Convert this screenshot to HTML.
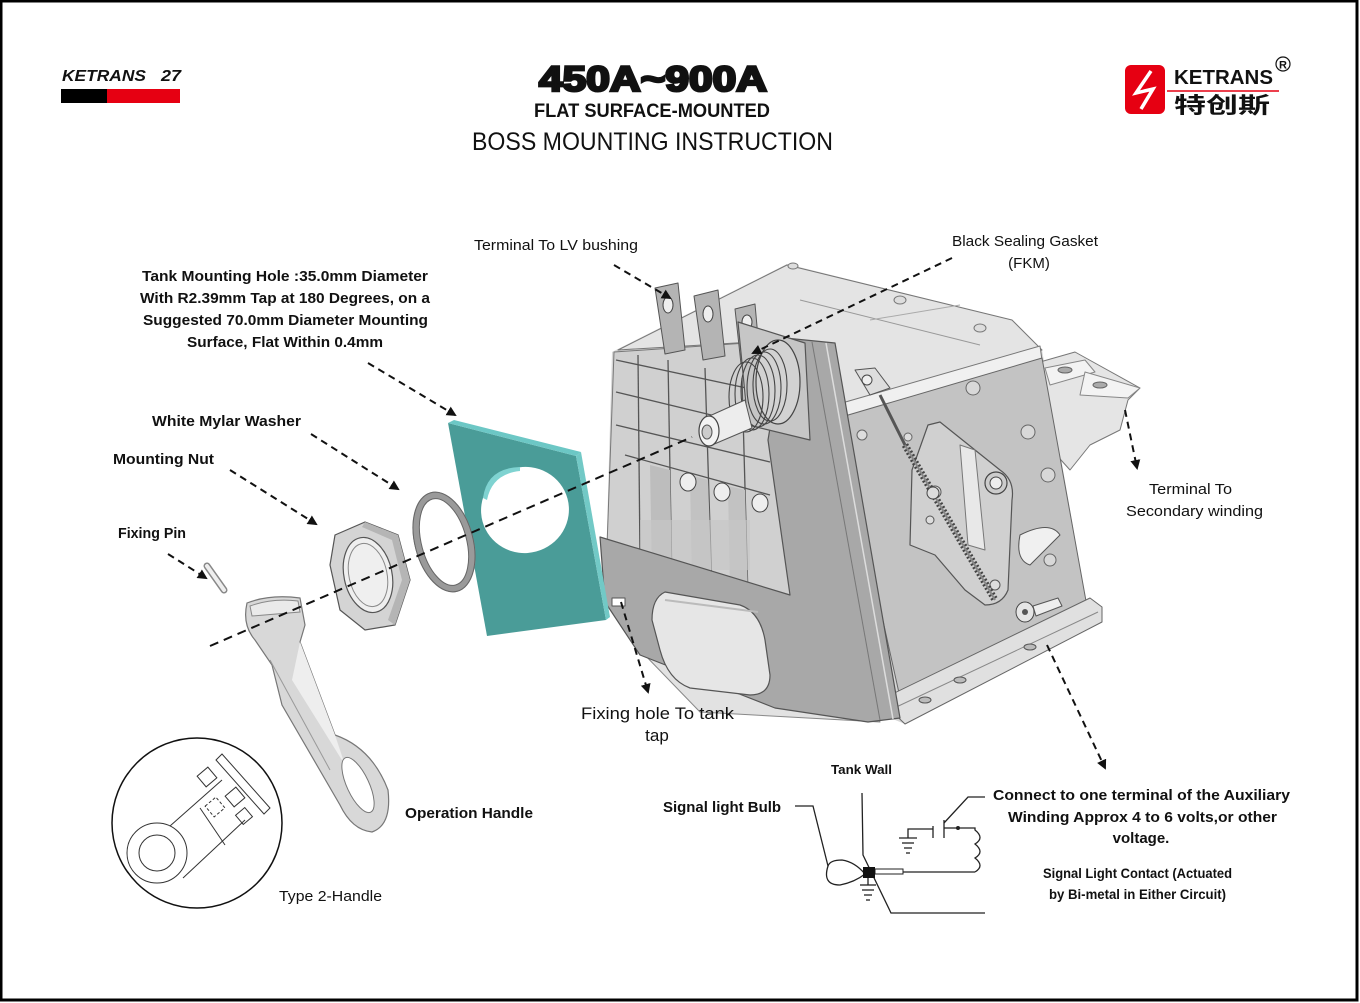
<!DOCTYPE html>
<html>
<head>
<meta charset="utf-8">
<style>
html,body{margin:0;padding:0;background:#fff;}
body{width:1360px;height:1003px;overflow:hidden;}
svg{display:block;}
text{font-family:"Liberation Sans","Noto Sans CJK SC",sans-serif;fill:#111;}
.lb{font-size:15px;}
.bd{font-size:15px;font-weight:bold;}
</style>
</head>
<body>
<svg width="1360" height="1003" viewBox="0 0 1360 1003" xmlns="http://www.w3.org/2000/svg">
<defs>
<marker id="ah" markerWidth="10" markerHeight="10" refX="8" refY="5" orient="auto" markerUnits="userSpaceOnUse">
<path d="M0,0 L10,5 L0,10 z" fill="#111"/>
</marker>
</defs>
<rect x="0" y="0" width="1360" height="1003" fill="#fff"/>
<!-- frame -->
<rect x="1" y="1" width="1356" height="999" fill="none" stroke="#000" stroke-width="3"/>

<!-- left logo -->
<text x="62" y="81" font-size="16" font-weight="bold" font-style="italic" textLength="84" lengthAdjust="spacingAndGlyphs">KETRANS</text>
<text x="161" y="81" font-size="16" font-weight="bold" font-style="italic" textLength="20" lengthAdjust="spacingAndGlyphs">27</text>
<rect x="61" y="89" width="46" height="14" fill="#000"/>
<rect x="107" y="89" width="73" height="14" fill="#e60012"/>

<!-- title -->
<text x="539" y="91" font-size="35" font-weight="900" stroke="#111" stroke-width="2.6" textLength="228" lengthAdjust="spacingAndGlyphs">450A~900A</text>
<text x="534" y="117" font-size="19.5" font-weight="bold" textLength="236" lengthAdjust="spacingAndGlyphs">FLAT SURFACE-MOUNTED</text>
<text x="472" y="150" font-size="25" textLength="361" lengthAdjust="spacingAndGlyphs">BOSS MOUNTING INSTRUCTION</text>

<!-- right logo -->
<rect x="1125" y="65" width="40" height="49" rx="6" fill="#e60012"/>
<polyline points="1151,71 1136,93 1153,89 1141,109" fill="none" stroke="#fff" stroke-width="3.5" stroke-linejoin="miter"/>
<text x="1174" y="84" font-size="20" font-weight="bold" textLength="99" lengthAdjust="spacingAndGlyphs">KETRANS</text>
<line x1="1167" y1="91" x2="1279" y2="91" stroke="#e60012" stroke-width="1.5"/>
<text x="1174" y="113" font-size="22" font-weight="bold" textLength="96" lengthAdjust="spacingAndGlyphs">特创斯</text>
<circle cx="1283" cy="64" r="7" fill="none" stroke="#111" stroke-width="1.2"/>
<text x="1283" y="68.5" font-size="11" text-anchor="middle" font-weight="bold">R</text>

<!-- ================= MACHINE ================= -->
<g stroke-linejoin="round">
<!-- base silhouette -->
<polygon points="612,352 787,264 1012,320 1042,350 1088,612 1102,607 1102,622 905,724 605,602" fill="#d6d6d6"/>
<!-- top face -->
<polygon points="618,350 787,265 1012,320 1042,350 842,412 785,340" fill="#e4e4e4" stroke="#777" stroke-width="1"/>
<polygon points="835,405 1040,346 1042,360 840,420" fill="#f0f0f0" stroke="#777" stroke-width="1"/>
<line x1="800" y1="300" x2="980" y2="345" stroke="#999" stroke-width="1"/>
<line x1="870" y1="320" x2="960" y2="305" stroke="#aaa" stroke-width="1"/>
<ellipse cx="900" cy="300" rx="6" ry="4" fill="#ddd" stroke="#777"/>
<ellipse cx="980" cy="328" rx="6" ry="4" fill="#ddd" stroke="#777"/>
<ellipse cx="793" cy="266" rx="5" ry="3" fill="#ddd" stroke="#777"/>

<!-- right terminals -->
<polygon points="1040,362 1075,352 1140,388 1128,400 1120,430 1090,445 1070,470 1052,450" fill="#e5e5e5" stroke="#777" stroke-width="1"/>
<polygon points="1045,368 1085,360 1095,372 1050,385" fill="#f3f3f3" stroke="#888" stroke-width="1"/>
<polygon points="1085,372 1140,388 1128,398 1080,395" fill="#f3f3f3" stroke="#888" stroke-width="1"/>
<ellipse cx="1065" cy="370" rx="7" ry="3" fill="#aaa" stroke="#666"/>
<ellipse cx="1100" cy="385" rx="7" ry="3" fill="#aaa" stroke="#666"/>

<!-- lattice frame -->
<polygon points="614,352 790,340 795,600 605,602" fill="#d0d0d0" stroke="#777" stroke-width="1"/>
<g stroke="#555" stroke-width="1.3" fill="none">
<line x1="616" y1="360" x2="765" y2="392"/>
<line x1="616" y1="392" x2="765" y2="428"/>
<line x1="616" y1="425" x2="770" y2="462"/>
<line x1="625" y1="455" x2="770" y2="495"/>
<line x1="638" y1="355" x2="640" y2="560"/>
<line x1="668" y1="360" x2="672" y2="585"/>
<line x1="705" y1="368" x2="712" y2="592"/>
<line x1="742" y1="378" x2="748" y2="598"/>
</g>
<polygon points="650,465 670,470 672,580 652,575" fill="#bdbdbd"/>
<polygon points="690,475 708,480 712,590 692,585" fill="#c2c2c2"/>
<polygon points="728,486 745,490 748,598 730,594" fill="#c2c2c2"/>
<ellipse cx="688" cy="482" rx="8" ry="9" fill="#eee" stroke="#444"/>
<ellipse cx="722" cy="492" rx="8" ry="9" fill="#eee" stroke="#444"/>
<ellipse cx="760" cy="503" rx="8" ry="9" fill="#eee" stroke="#444"/>
<rect x="640" y="520" width="110" height="50" fill="#c6c6c6" opacity="0.6"/>

<!-- LV tabs -->
<polygon points="655,288 678,283 685,350 665,354" fill="#b4b4b4" stroke="#555" stroke-width="1"/>
<ellipse cx="668" cy="305" rx="5" ry="8" fill="#eee" stroke="#444"/>
<polygon points="694,296 718,290 725,356 703,360" fill="#b4b4b4" stroke="#555" stroke-width="1"/>
<ellipse cx="708" cy="314" rx="5" ry="8" fill="#eee" stroke="#444"/>
<polygon points="735,309 755,304 760,360 741,364" fill="#b4b4b4" stroke="#555" stroke-width="1"/>
<ellipse cx="747" cy="322" rx="5" ry="7" fill="#eee" stroke="#444"/>

<!-- right side plate -->
<polygon points="838,418 1042,358 1088,612 905,720" fill="#c3c3c3" stroke="#666" stroke-width="1"/>
<circle cx="973" cy="388" r="7" fill="#d8d8d8" stroke="#666"/>
<circle cx="1028" cy="432" r="7" fill="#d8d8d8" stroke="#666"/>
<circle cx="1048" cy="475" r="7" fill="#d8d8d8" stroke="#666"/>
<circle cx="1050" cy="560" r="6" fill="#d8d8d8" stroke="#666"/>
<circle cx="908" cy="437" r="4" fill="#ddd" stroke="#666"/>
<circle cx="862" cy="435" r="5" fill="#ddd" stroke="#666"/>
<!-- mechanism plate -->
<path d="M928,425 L940,422 L1000,470 Q1015,480 1012,500 L1008,590 Q1002,605 985,605 L965,590 L935,555 L910,545 L912,470 Z" fill="#d0d0d0" stroke="#555" stroke-width="1.2"/>
<polygon points="960,445 975,450 985,550 968,545" fill="#e8e8e8" stroke="#777" stroke-width="1"/>
<circle cx="996" cy="483" r="11" fill="#ccc" stroke="#444" stroke-width="1.2"/>
<circle cx="996" cy="483" r="6" fill="#eee" stroke="#444"/>
<circle cx="935" cy="492" r="6" fill="#ddd" stroke="#555"/>
<circle cx="930" cy="520" r="4" fill="#ddd" stroke="#555"/>
<circle cx="995" cy="585" r="5" fill="#ddd" stroke="#555"/>
<path d="M1020,535 Q1050,520 1060,535 L1030,565 Q1015,560 1020,535 Z" fill="#f0f0f0" stroke="#555"/>
<!-- spring -->
<line x1="880" y1="395" x2="905" y2="445" stroke="#555" stroke-width="3"/>
<line x1="905" y1="445" x2="995" y2="600" stroke="#444" stroke-width="7" stroke-dasharray="2 2"/>
<line x1="905" y1="445" x2="995" y2="600" stroke="#888" stroke-width="2"/>
<circle cx="933" cy="493" r="6" fill="#ddd" stroke="#444"/>
<polygon points="855,370 875,368 890,388 870,395" fill="#ddd" stroke="#555"/>
<circle cx="867" cy="380" r="5" fill="#eee" stroke="#444"/>

<!-- bottom flange -->
<polygon points="880,700 1090,598 1102,607 1102,622 905,724" fill="#e0e0e0" stroke="#666" stroke-width="1"/>
<line x1="890" y1="710" x2="1098" y2="612" stroke="#888" stroke-width="1"/>
<ellipse cx="960" cy="680" rx="6" ry="3" fill="#bbb" stroke="#555"/>
<ellipse cx="1030" cy="647" rx="6" ry="3" fill="#bbb" stroke="#555"/>
<ellipse cx="925" cy="700" rx="6" ry="3" fill="#bbb" stroke="#555"/>
<!-- bottom connector -->
<ellipse cx="1025" cy="612" rx="9" ry="10" fill="#e5e5e5" stroke="#444"/>
<circle cx="1025" cy="612" r="3" fill="#555"/>
<polygon points="1033,606 1058,598 1062,606 1036,616" fill="#eee" stroke="#555"/>

<!-- lower machine base visible under arm -->
<polygon points="640,650 870,700 880,722 700,712" fill="#e2e2e2" stroke="#888" stroke-width="1"/>

<!-- L mounting plate -->
<path d="M600,537 L790,595 L768,440 L785,338 L835,343 L900,718 L868,722 L775,708 L640,655 L605,602 Z" fill="#a8a8a8" stroke="#555" stroke-width="1.2"/>
<line x1="812" y1="342" x2="880" y2="720" stroke="#777" stroke-width="1"/>
<line x1="826" y1="343" x2="893" y2="719" stroke="#ddd" stroke-width="1.5"/>
<!-- slot -->
<path d="M665,592 Q652,598 652,620 L660,650 Q668,680 690,688 L750,695 Q770,695 770,675 L765,640 Q760,612 740,605 Z" fill="#e6e6e6" stroke="#555" stroke-width="1.2"/>
<line x1="665" y1="600" x2="758" y2="612" stroke="#bbb" stroke-width="2"/>
<path d="M612,598 L625,598 L625,606 L612,606 Z" fill="#fff" stroke="#555"/>

<!-- shaft / bushing -->
<polygon points="738,322 805,343 810,440 748,425" fill="#c6c6c6" stroke="#555" stroke-width="1.2"/>
<ellipse cx="778" cy="382" rx="22" ry="42" fill="#d2d2d2" stroke="#444" stroke-width="1.2"/>
<g fill="none" stroke="#444" stroke-width="1.1">
<ellipse cx="770" cy="385" rx="17" ry="36"/>
<ellipse cx="764" cy="388" rx="17" ry="36"/>
<ellipse cx="758" cy="391" rx="17" ry="36"/>
<ellipse cx="752" cy="394" rx="17" ry="36"/>
<ellipse cx="746" cy="397" rx="17" ry="35"/>
</g>
<polygon points="705,418 745,400 752,428 712,445" fill="#ededed" stroke="#555" stroke-width="1"/>
<ellipse cx="709" cy="431" rx="10" ry="15" fill="#f4f4f4" stroke="#444" stroke-width="1.2"/>
<ellipse cx="707" cy="432" rx="5" ry="7" fill="#ccc" stroke="#555"/>
</g>

<!-- teal plate -->
<polygon points="448,423 576,456 606,620 487,636" fill="#4a9c98"/>
<polygon points="448,423 454,420 581,452 576,456" fill="#6cc7c5"/>
<polygon points="576,456 581,452 610,617 606,620" fill="#72c9c6"/>
<ellipse cx="525" cy="510" rx="44" ry="43" fill="#fff" transform="rotate(-15 525 510)"/>
<path d="M483,498 Q487,468 520,467 L520,471 Q492,474 487,500 Z" fill="#7fd3d1"/>

<!-- washer -->
<ellipse cx="444" cy="542" rx="26" ry="48" fill="none" stroke="#9a9a9a" stroke-width="7" transform="rotate(-15 444 542)"/>
<ellipse cx="444" cy="542" rx="29" ry="51" fill="none" stroke="#666" stroke-width="1" transform="rotate(-15 444 542)"/>
<ellipse cx="444" cy="542" rx="22.5" ry="44.5" fill="none" stroke="#666" stroke-width="1" transform="rotate(-15 444 542)"/>

<!-- nut -->
<polygon points="335,535 365,522 398,535 410,580 395,625 365,630 340,610 330,565" fill="#d4d4d4" stroke="#555" stroke-width="1.2"/>
<polygon points="365,522 398,535 410,580 395,625 388,620 402,580 392,540 362,527" fill="#b5b5b5"/>
<ellipse cx="368" cy="575" rx="24" ry="38" fill="#efefef" stroke="#555" stroke-width="1.2" transform="rotate(-12 368 575)"/>
<ellipse cx="368" cy="575" rx="19" ry="32" fill="none" stroke="#888" stroke-width="1" transform="rotate(-12 368 575)"/>

<!-- fixing pin -->
<line x1="207" y1="566" x2="224" y2="590" stroke="#888" stroke-width="7" stroke-linecap="round"/>
<line x1="207" y1="566" x2="224" y2="590" stroke="#eee" stroke-width="4" stroke-linecap="round"/>

<!-- operation handle -->
<path d="M247,603 Q270,594 300,598 L305,625 L300,642 L335,735 Q372,748 388,790 Q392,825 372,832 Q352,830 340,805 L282,705 L272,665 L255,640 Q242,625 247,603 Z" fill="#d8d8d8" stroke="#777" stroke-width="1.2"/>
<path d="M250,606 Q272,598 298,601 L300,612 L252,616 Z" fill="#eaeaea" stroke="#888"/>
<path d="M300,642 L335,735 L345,765 L292,680 Z" fill="#eeeeee"/>
<ellipse cx="358" cy="785" rx="11" ry="30" fill="#fff" stroke="#777" stroke-width="1" transform="rotate(-25 358 785)"/>
<path d="M270,660 L330,770" stroke="#999" stroke-width="1" fill="none"/>

<!-- inset circle -->
<circle cx="197" cy="823" r="85" fill="none" stroke="#111" stroke-width="1.5"/>
<g fill="none" stroke="#333" stroke-width="1">
<circle cx="157" cy="853" r="30"/>
<circle cx="157" cy="853" r="18"/>
<line x1="170" y1="826" x2="222" y2="780"/>
<line x1="183" y1="878" x2="245" y2="820"/>
<line x1="200" y1="808" x2="225" y2="845"/>
<polygon points="216,760 222,754 270,808 264,814"/>
<rect x="200" y="770" width="14" height="14" transform="rotate(-40 207 777)"/>
<rect x="208" y="800" width="14" height="14" stroke-dasharray="3 2" transform="rotate(-40 215 807)"/>
<rect x="228" y="790" width="14" height="14" transform="rotate(-40 235 797)"/>
<rect x="238" y="810" width="12" height="12" transform="rotate(-40 244 816)"/>
</g>

<!-- axis dashed line -->
<line x1="210" y1="646" x2="692" y2="437" stroke="#111" stroke-width="2" stroke-dasharray="9 6"/>

<!-- dashed arrows -->
<g stroke="#111" stroke-width="2" stroke-dasharray="7 5" fill="none" marker-end="url(#ah)">
<line x1="614" y1="265" x2="670" y2="298"/>
<line x1="952" y1="258" x2="753" y2="353"/>
<line x1="368" y1="363" x2="455" y2="415"/>
<line x1="311" y1="434" x2="398" y2="489"/>
<line x1="230" y1="470" x2="316" y2="524"/>
<line x1="168" y1="554" x2="206" y2="578"/>
<line x1="1125" y1="410" x2="1137" y2="468"/>
<line x1="621" y1="602" x2="648" y2="692"/>
<line x1="1047" y1="645" x2="1105" y2="768"/>
</g>

<!-- labels -->
<text class="lb" x="474" y="250" textLength="164" lengthAdjust="spacingAndGlyphs">Terminal To LV bushing</text>
<text class="lb" x="952" y="246" textLength="146" lengthAdjust="spacingAndGlyphs">Black Sealing Gasket</text>
<text class="lb" x="1029" y="268" text-anchor="middle">(FKM)</text>
<text class="bd" x="142" y="281" textLength="286" lengthAdjust="spacingAndGlyphs">Tank Mounting Hole :35.0mm Diameter</text>
<text class="bd" x="140" y="303" textLength="290" lengthAdjust="spacingAndGlyphs">With R2.39mm Tap at 180 Degrees, on a</text>
<text class="bd" x="143" y="325" textLength="285" lengthAdjust="spacingAndGlyphs">Suggested 70.0mm Diameter Mounting</text>
<text class="bd" x="187" y="347" textLength="196" lengthAdjust="spacingAndGlyphs">Surface, Flat Within 0.4mm</text>
<text class="bd" x="152" y="426" textLength="149" lengthAdjust="spacingAndGlyphs">White Mylar Washer</text>
<text class="bd" x="113" y="464" textLength="101" lengthAdjust="spacingAndGlyphs">Mounting Nut</text>
<text class="bd" x="118" y="538" textLength="68" lengthAdjust="spacingAndGlyphs">Fixing Pin</text>
<text class="lb" x="1149" y="494" textLength="83" lengthAdjust="spacingAndGlyphs">Terminal To</text>
<text class="lb" x="1126" y="516" textLength="137" lengthAdjust="spacingAndGlyphs">Secondary winding</text>
<text x="581" y="719" font-size="17" textLength="153" lengthAdjust="spacingAndGlyphs">Fixing hole To tank</text>
<text x="657" y="741" font-size="17" text-anchor="middle">tap</text>
<text class="bd" x="405" y="818" textLength="128" lengthAdjust="spacingAndGlyphs">Operation Handle</text>
<text class="lb" x="279" y="901" textLength="103" lengthAdjust="spacingAndGlyphs">Type 2-Handle</text>
<text x="831" y="774" font-size="13" font-weight="bold" textLength="61" lengthAdjust="spacingAndGlyphs">Tank Wall</text>
<text class="bd" x="663" y="812" textLength="118" lengthAdjust="spacingAndGlyphs">Signal light Bulb</text>
<text class="bd" x="993" y="800" textLength="297" lengthAdjust="spacingAndGlyphs">Connect to one terminal of the Auxiliary</text>
<text class="bd" x="1008" y="822" textLength="269" lengthAdjust="spacingAndGlyphs">Winding Approx 4 to 6 volts,or other</text>
<text class="bd" x="1141" y="843" text-anchor="middle">voltage.</text>
<text x="1043" y="878" font-size="14" font-weight="bold" textLength="189" lengthAdjust="spacingAndGlyphs">Signal Light Contact (Actuated</text>
<text x="1049" y="899" font-size="14" font-weight="bold" textLength="177" lengthAdjust="spacingAndGlyphs">by Bi-metal in Either Circuit)</text>

<!-- schematic -->
<g fill="none" stroke="#222" stroke-width="1.3">
<polyline points="795,806 813,806 828,866"/>
<polyline points="862,793 863,855 891,913 985,913"/>
<path d="M828,866 Q822,885 840,885 Q855,882 865,874 Q855,862 842,860 Q830,860 828,866 Z"/>
<polyline points="903,872 975,872"/>
<path d="M975,872 Q985,866 975,858 Q985,852 975,844 Q985,838 975,830 L975,828 L958,828"/>
<line x1="958" y1="828" x2="944" y2="828"/>
<line x1="944" y1="820" x2="944" y2="838"/>
<line x1="933" y1="826" x2="933" y2="838"/>
<polyline points="933,829 908,829 908,838"/>
<line x1="899" y1="838" x2="917" y2="838"/>
<line x1="902" y1="843" x2="914" y2="843"/>
<line x1="904" y1="848" x2="912" y2="848"/>
<line x1="906" y1="853" x2="910" y2="853"/>
<polyline points="944,823 968,797 985,797"/>
<line x1="868" y1="878" x2="868" y2="885"/>
<line x1="860" y1="885" x2="876" y2="885"/>
<line x1="862" y1="890" x2="874" y2="890"/>
<line x1="864" y1="895" x2="872" y2="895"/>
<line x1="866" y1="900" x2="870" y2="900"/>
</g>
<rect x="875" y="869" width="28" height="5" fill="#fff" stroke="#222" stroke-width="1"/>
<rect x="863" y="867" width="12" height="11" fill="#111"/>
<circle cx="958" cy="828" r="2" fill="#222"/>
</svg>
</body>
</html>
